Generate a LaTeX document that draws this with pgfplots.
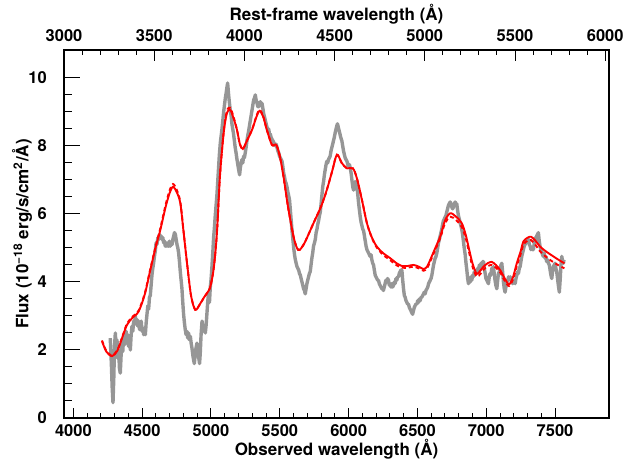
\documentclass[border=0pt]{standalone}
\usepackage{fontspec}
\setmainfont{TeX Gyre Heros}
\usepackage{pgfplots}
\pgfplotsset{compat=1.18}
\newcommand\tlf{\fontsize{16.5bp}{20bp}\selectfont\bfseries}
\newcommand\lbf{\fontsize{17bp}{20bp}\selectfont\bfseries}
\definecolor{specgray}{RGB}{150,150,150}
\begin{document}
\begin{tikzpicture}
\path[use as bounding box] (-64bp,-46bp) rectangle (560bp,418bp);
\pgfplotsset{
  every axis/.append style={
    scale only axis, width=545bp, height=368bp,
    tick align=inside,
    /pgf/number format/assume math mode=true,
    /pgf/number format/1000 sep={},
    every tick/.style={black, line width=1bp},
    axis line style={line width=1.4bp},
  }
}
% main axis with data
\begin{axis}[
  xmin=3932, xmax=7892, ymin=0, ymax=10.82,
  xtick={4000,4500,...,7500}, minor x tick num=4,
  xtick pos=bottom, ytick=\empty,
  major tick length=10bp, minor tick length=5bp,
  xticklabel style={font=\tlf, anchor=base, yshift=-19bp},
  xlabel={Observed wavelength (Å)},
  xlabel style={font=\lbf, at={(axis description cs:0.5,0)}, anchor=base, yshift=-38bp},
  clip=true,
]
\addplot[specgray, line width=3.4bp, line join=round] coordinates {
(4268,2.35)(4276,1.60)(4282,0.90)(4288,0.45)(4294,1.20)(4299,2.10)(4305,2.50)(4311,2.05)(4317,2.30)(4323,1.75)
(4329,2.00)(4335,1.45)(4341,1.32)(4347,1.85)(4353,2.20)(4359,1.95)(4366,2.45)(4372,2.15)(4378,2.40)(4384,2.55)
(4390,2.20)(4396,2.45)(4402,2.10)(4408,2.30)(4414,2.00)(4420,2.45)(4426,2.70)(4432,2.55)(4438,2.85)(4444,2.75)
(4450,3.00)(4456,2.80)(4462,2.90)(4468,2.70)(4475,2.85)(4481,2.60)(4487,2.70)(4493,2.85)(4499,2.55)(4505,2.65)
(4511,2.45)(4517,2.60)(4523,2.45)(4529,2.80)(4535,3.05)(4541,3.30)(4547,3.20)(4553,3.55)(4559,3.60)(4565,3.90)
(4571,4.20)(4577,4.40)(4583,4.55)(4589,4.75)(4595,4.90)(4601,5.15)(4607,5.10)(4614,5.30)(4620,5.25)(4626,5.40)
(4632,5.30)(4638,5.35)(4644,5.25)(4650,5.30)(4656,5.15)(4662,5.20)(4668,5.05)(4674,5.15)(4680,5.05)(4686,5.15)
(4692,5.05)(4698,5.20)(4704,5.05)(4710,5.15)(4717,5.10)(4723,5.25)(4729,5.35)(4735,5.45)(4741,5.40)(4747,5.25)
(4753,5.10)(4759,5.00)(4765,4.85)(4771,4.60)(4777,4.30)(4783,4.05)(4789,3.80)(4795,3.40)(4801,3.05)(4807,2.80)
(4813,2.60)(4819,2.45)(4825,2.55)(4831,2.35)(4837,2.50)(4843,2.30)(4850,2.40)(4856,2.20)(4862,2.05)(4868,1.85)
(4874,1.70)(4879,1.60)(4885,1.85)(4891,2.05)(4898,2.20)(4904,2.05)(4910,1.80)(4917,1.60)(4922,1.90)(4928,2.45)
(4935,2.85)(4941,2.70)(4947,2.55)(4953,2.65)(4959,2.50)(4965,2.75)(4971,3.10)(4977,3.45)(4983,3.70)(4989,3.40)
(4995,3.85)(5001,4.10)(5007,4.45)(5013,4.85)(5019,5.30)(5025,5.60)(5031,5.95)(5037,6.25)(5043,6.55)(5049,6.95)
(5055,7.35)(5061,7.75)(5068,8.10)(5074,8.30)(5080,8.50)(5086,8.75)(5092,9.00)(5098,9.20)(5104,9.40)(5110,9.55)
(5115,9.70)(5121,9.85)(5127,9.55)(5133,9.30)(5140,9.05)(5146,8.90)(5152,8.65)(5158,8.50)(5164,8.35)(5170,8.15)
(5176,7.95)(5182,7.80)(5189,7.60)(5195,7.45)(5201,7.30)(5208,7.15)(5213,7.35)(5219,7.50)(5225,7.60)(5231,7.50)
(5237,7.70)(5243,7.65)(5249,7.80)(5255,7.95)(5261,8.15)(5267,8.30)(5274,8.45)(5280,8.60)(5286,8.75)(5292,8.90)
(5298,9.05)(5304,9.20)(5310,9.35)(5316,9.40)(5322,9.50)(5328,9.35)(5335,9.25)(5341,9.15)(5347,9.15)(5353,9.25)
(5359,9.30)(5365,9.20)(5371,9.25)(5377,9.10)(5383,8.95)(5389,8.85)(5395,8.75)(5401,8.65)(5407,8.55)(5413,8.45)
(5419,8.50)(5425,8.35)(5431,8.35)(5437,8.25)(5443,8.20)(5450,8.15)(5456,8.10)(5462,8.05)(5468,8.00)(5474,8.05)
(5480,7.95)(5486,7.85)(5492,7.80)(5498,7.70)(5504,7.65)(5510,7.60)(5516,7.55)(5522,7.40)(5528,7.20)(5534,7.10)
(5540,6.95)(5546,6.90)(5552,6.80)(5558,6.65)(5564,6.55)(5571,6.40)(5577,6.10)(5583,5.80)(5589,5.50)(5595,5.25)
(5601,5.00)(5607,4.80)(5613,4.65)(5619,4.55)(5625,4.45)(5631,4.40)(5637,4.35)(5643,4.25)(5649,4.20)(5655,4.10)
(5661,4.00)(5667,3.90)(5673,3.80)(5679,3.75)(5685,3.65)(5691,3.80)(5697,3.95)(5703,4.05)(5709,4.15)(5715,4.25)
(5721,4.30)(5727,4.50)(5733,4.70)(5739,4.85)(5745,5.05)(5752,5.15)(5758,5.25)(5764,5.45)(5770,5.55)(5776,5.70)
(5782,5.80)(5788,5.95)(5794,6.05)(5800,6.30)(5806,6.55)(5812,6.80)(5818,6.95)(5824,7.15)(5830,7.30)(5836,7.45)
(5842,7.55)(5848,7.50)(5854,7.60)(5860,7.65)(5866,7.70)(5872,7.85)(5878,7.95)(5884,8.05)(5890,8.15)(5896,8.25)
(5903,8.40)(5909,8.50)(5915,8.60)(5919,8.65)(5925,8.55)(5931,8.45)(5937,8.35)(5943,8.25)(5951,8.15)(5957,8.00)
(5963,7.85)(5969,7.75)(5975,7.65)(5981,7.60)(5988,7.55)(5994,7.45)(6000,7.40)(6006,7.45)(6012,7.35)(6018,7.20)
(6024,7.00)(6030,6.80)(6036,6.70)(6042,6.85)(6048,6.95)(6055,6.90)(6061,6.80)(6067,6.55)(6073,6.30)(6079,6.10)
(6085,5.90)(6091,5.75)(6097,5.65)(6103,5.55)(6109,5.50)(6115,5.35)(6121,5.20)(6127,5.05)(6133,4.95)(6139,4.90)
(6145,4.85)(6151,4.80)(6157,4.75)(6163,4.80)(6169,4.65)(6175,4.55)(6181,4.50)(6187,4.35)(6193,4.20)(6199,4.15)
(6205,4.10)(6211,4.05)(6217,4.05)(6223,3.95)(6229,3.90)(6235,3.85)(6241,3.80)(6247,3.80)(6253,3.75)(6259,3.85)
(6265,3.95)(6271,4.05)(6277,4.00)(6283,4.10)(6290,4.05)(6296,3.90)(6302,3.95)(6308,3.85)(6314,3.95)(6320,3.85)
(6326,3.90)(6332,4.00)(6338,3.95)(6344,4.10)(6350,4.05)(6356,4.15)(6362,4.15)(6368,4.25)(6374,4.30)(6380,4.35)
(6387,4.35)(6393,4.05)(6399,3.80)(6405,3.60)(6411,3.55)(6417,3.45)(6423,3.40)(6429,3.35)(6435,3.35)(6441,3.25)
(6447,3.20)(6453,3.15)(6459,3.10)(6465,3.05)(6471,3.15)(6477,3.25)(6483,3.30)(6489,3.35)(6496,3.35)(6502,3.45)
(6508,3.40)(6514,3.50)(6520,3.45)(6526,3.55)(6532,3.55)(6538,3.60)(6544,3.65)(6550,3.70)(6556,3.65)(6562,3.75)
(6569,3.80)(6575,3.85)(6581,3.95)(6587,4.00)(6593,4.05)(6599,4.10)(6605,4.20)(6611,4.35)(6617,4.50)(6623,4.60)
(6629,4.70)(6635,4.75)(6641,4.85)(6647,5.00)(6653,5.15)(6659,5.25)(6665,5.35)(6671,5.45)(6677,5.55)(6683,5.70)
(6689,5.80)(6695,5.85)(6701,5.90)(6707,5.95)(6713,6.05)(6719,6.15)(6725,6.25)(6731,6.30)(6738,6.35)(6744,6.30)
(6750,6.20)(6756,6.15)(6762,6.20)(6768,6.30)(6774,6.35)(6780,6.30)(6786,6.30)(6792,6.10)(6798,5.95)(6804,5.85)
(6810,5.75)(6816,5.65)(6822,5.55)(6828,5.40)(6834,5.20)(6840,5.00)(6847,4.80)(6853,4.55)(6859,4.35)(6865,4.10)
(6871,3.95)(6877,4.05)(6883,4.00)(6889,4.15)(6895,4.05)(6901,4.20)(6907,4.15)(6913,4.30)(6919,4.20)(6926,4.35)
(6932,4.25)(6938,4.40)(6944,4.35)(6950,4.50)(6956,4.35)(6962,4.55)(6968,4.45)(6974,4.60)(6980,4.60)(6986,4.40)
(6992,4.25)(6998,4.10)(7004,4.05)(7010,4.00)(7016,3.95)(7022,4.15)(7028,4.25)(7034,4.20)(7040,4.40)(7046,4.35)
(7052,4.45)(7058,4.25)(7064,4.05)(7070,3.90)(7077,3.80)(7083,4.05)(7089,4.25)(7095,4.30)(7101,4.40)(7107,4.50)
(7113,4.55)(7119,4.30)(7125,4.00)(7131,3.80)(7137,3.70)(7143,3.85)(7149,4.00)(7156,4.05)(7162,4.15)(7168,4.10)
(7174,4.15)(7180,4.05)(7186,4.00)(7192,3.95)(7198,4.05)(7204,4.00)(7210,3.95)(7216,4.10)(7222,4.20)(7228,4.30)
(7234,4.25)(7240,4.40)(7246,4.45)(7252,4.60)(7258,4.75)(7264,4.85)(7270,4.95)(7276,5.05)(7282,5.10)(7288,5.20)
(7294,5.15)(7300,5.20)(7307,5.25)(7313,5.10)(7319,5.05)(7325,4.95)(7331,5.00)(7337,4.95)(7343,4.95)(7349,5.15)
(7355,5.30)(7361,5.20)(7367,5.35)(7373,5.40)(7379,5.45)(7385,5.20)(7391,5.05)(7397,4.95)(7403,4.90)(7409,4.80)
(7415,4.75)(7421,4.85)(7427,4.70)(7433,4.75)(7439,4.60)(7446,4.65)(7452,4.55)(7458,4.50)(7464,4.35)(7470,4.20)
(7476,4.10)(7482,4.30)(7488,4.45)(7494,4.50)(7500,4.55)(7506,4.40)(7512,4.30)(7518,4.10)(7524,3.90)(7531,3.70)
(7537,4.05)(7543,4.50)(7549,4.75)(7555,4.60)(7561,4.55)(7565,4.65)
};
% dashed model
\addplot[red, line width=1.9bp, dash pattern=on 4bp off 3bp, smooth, tension=0.5] coordinates {
(4208,2.28)(4240,1.97)(4281,1.84)(4320,2.00)(4360,2.44)(4390,2.78)(4430,2.98)(4474,3.16)(4520,3.68)(4559,4.38)
(4600,5.08)(4632,5.58)(4670,6.26)(4700,6.70)(4724,6.88)(4750,6.72)(4777,6.36)(4800,5.52)(4826,4.55)(4855,3.60)
(4886,3.18)(4920,3.35)(4950,3.55)(4971,3.67)(4995,3.86)(5020,4.40)(5043,5.43)(5065,7.10)(5092,8.40)(5115,9.02)
(5140,9.12)(5165,8.84)(5189,8.47)(5210,8.05)(5232,7.91)(5255,8.10)(5298,8.47)(5330,8.88)(5353,9.06)(5380,8.87)
(5406,8.47)(5443,8.03)(5474,8.03)(5500,7.70)(5527,7.10)(5560,6.20)(5600,5.33)(5625,5.00)(5643,4.94)(5680,5.15)
(5745,5.73)(5800,6.22)(5842,6.71)(5880,7.25)(5915,7.74)(5950,7.50)(5988,7.34)(6031,7.34)(6060,7.05)(6097,6.41)
(6133,5.73)(6170,5.28)(6205,5.01)(6250,4.80)(6302,4.64)(6345,4.50)(6387,4.42)(6430,4.42)(6471,4.45)(6510,4.40)
(6544,4.33)(6570,4.40)(6593,4.60)(6630,4.95)(6665,5.28)(6700,5.72)(6738,5.92)(6780,5.82)(6822,5.62)(6850,5.30)
(6871,4.95)(6900,4.45)(6931,4.16)(6960,4.25)(6980,4.36)(7010,4.46)(7040,4.50)(7070,4.42)(7101,4.28)(7135,4.03)
(7166,3.88)(7195,4.08)(7222,4.47)(7250,4.82)(7270,5.10)(7300,5.21)(7326,5.23)(7360,5.08)(7391,4.90)(7440,4.72)
(7488,4.58)(7530,4.48)(7568,4.40)
};
% solid model
\addplot[red, line width=1.9bp, smooth, tension=0.5] coordinates {
(4208,2.26)(4240,1.95)(4281,1.82)(4320,1.98)(4360,2.42)(4390,2.74)(4430,2.95)(4474,3.13)(4520,3.65)(4559,4.35)
(4600,5.05)(4632,5.53)(4670,6.20)(4700,6.62)(4724,6.80)(4750,6.65)(4777,6.32)(4800,5.50)(4826,4.55)(4855,3.60)
(4886,3.18)(4920,3.35)(4950,3.55)(4971,3.67)(4995,3.86)(5020,4.40)(5043,5.43)(5065,7.10)(5092,8.37)(5115,8.95)
(5140,9.06)(5165,8.80)(5189,8.47)(5210,8.05)(5232,7.91)(5255,8.10)(5298,8.47)(5330,8.85)(5353,9.03)(5380,8.85)
(5406,8.47)(5443,8.03)(5474,8.03)(5500,7.70)(5527,7.10)(5560,6.20)(5600,5.33)(5625,5.00)(5643,4.94)(5680,5.15)
(5745,5.73)(5800,6.22)(5842,6.71)(5880,7.25)(5915,7.74)(5950,7.50)(5988,7.34)(6031,7.34)(6060,7.05)(6097,6.41)
(6133,5.73)(6170,5.30)(6205,5.04)(6250,4.85)(6302,4.70)(6345,4.56)(6387,4.47)(6430,4.47)(6471,4.50)(6510,4.45)
(6544,4.38)(6570,4.45)(6593,4.65)(6630,5.00)(6665,5.33)(6700,5.80)(6738,6.02)(6780,5.92)(6822,5.73)(6850,5.40)
(6871,5.04)(6900,4.55)(6931,4.24)(6960,4.35)(6980,4.45)(7010,4.55)(7040,4.59)(7070,4.50)(7101,4.35)(7135,4.10)
(7166,3.93)(7195,4.15)(7222,4.55)(7250,4.90)(7270,5.19)(7300,5.30)(7326,5.33)(7360,5.20)(7391,5.04)(7440,4.88)
(7488,4.75)(7530,4.64)(7568,4.55)
};
\end{axis}
% y axis ticks and label
\begin{axis}[
  xmin=3932, xmax=7892, ymin=0, ymax=10.82,
  hide x axis, axis y line*=left,
  ytick={0,2,...,10}, minor y tick num=3,
  major tick length=16bp, minor tick length=8bp,
  yticklabel style={font=\tlf, anchor=east, inner sep=0pt, xshift=-17bp},
  ylabel={Flux (10\textsuperscript{−18} erg/s/cm\textsuperscript{2}/Å)},
  ylabel style={font=\lbf, at={(axis description cs:0,0.5)}, anchor=center, yshift=42bp},
]
\addplot[draw=none] coordinates {(4000,1)};
\end{axis}
% top rest-frame axis
\begin{axis}[
  xmin=3000, xmax=6021, ymin=0, ymax=10.82,
  hide y axis, axis x line*=top,
  xtick={3000,3500,...,6000}, minor x tick num=4,
  major tick length=11bp, minor tick length=5bp,
  xticklabel style={font=\tlf, anchor=base, yshift=8bp},
  xlabel={Rest-frame wavelength (Å)},
  xlabel style={font=\lbf, at={(axis description cs:0.5,1)}, anchor=base, yshift=29bp},
]
\addplot[draw=none] coordinates {(4000,1)};
\end{axis}
\end{tikzpicture}
\end{document}
